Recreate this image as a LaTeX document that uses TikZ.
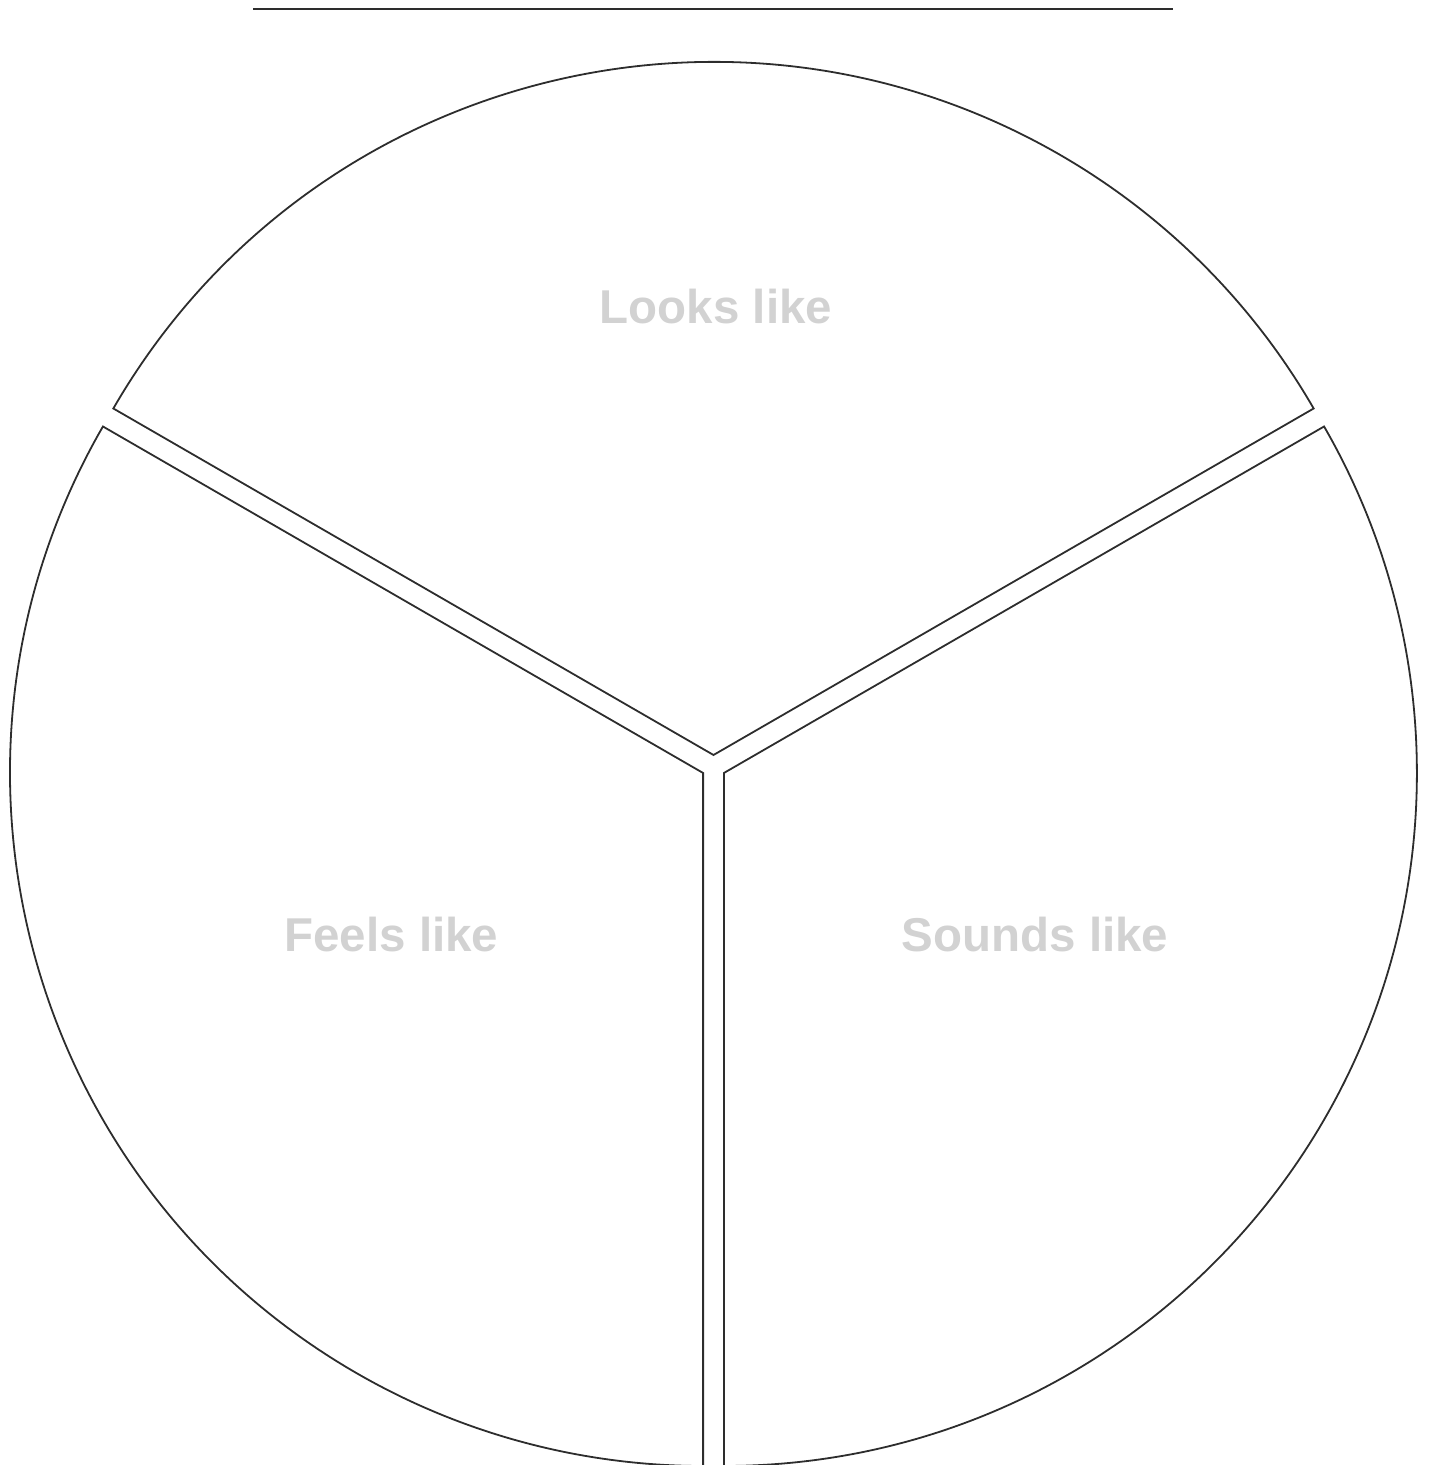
\documentclass[tikz,border=0pt]{standalone}
\usepackage{fontspec}
\setmainfont{Liberation Sans}
\definecolor{edge}{RGB}{45,45,45}
\definecolor{labelgray}{RGB}{210,210,210}
\tikzset{
  sector/.style={draw=edge, line width=1.8pt, line join=miter},
  lbl/.style={anchor=base, text=labelgray, font=\fontsize{47.5}{50}\selectfont\bfseries, inner sep=0pt},
}
\begin{document}
\begin{tikzpicture}[x=1pt,y=1pt]
\useasboundingbox (0,0) rectangle (1429,1465);
% top rule
\coordinate (ruleL) at (253,1456);
\coordinate (ruleR) at (1173,1456);
\draw[edge, line width=2.2pt] (ruleL) -- (ruleR);
% sectors
\coordinate (apexT) at (713.5,710);
\coordinate (apexL) at (703.1,692);
\coordinate (apexR) at (723.9,692);
\draw[sector] (apexT) -- ++(150:693) arc[start angle=150, end angle=30, radius=693] -- cycle;
\draw[sector] (apexL) -- ++(150:693) arc[start angle=150, end angle=270, radius=693] -- cycle;
\draw[sector] (apexR) -- ++(270:693) arc[start angle=270, end angle=390, radius=693] -- cycle;
% labels
\node[lbl] (looks) at (716,1141) {Looks like};
\node[lbl] (feels) at (391.5,513) {Feels like};
\node[lbl] (sounds) at (1035,513) {Sounds like};
\end{tikzpicture}
\end{document}
